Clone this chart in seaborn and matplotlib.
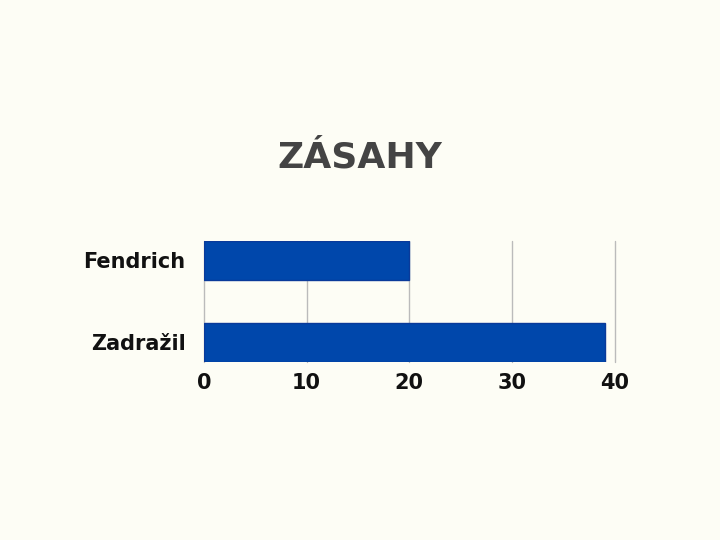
import matplotlib
matplotlib.use("Agg")
import matplotlib.pyplot as plt
import seaborn as sns
import pandas as pd

# chart data
players = ["Fendrich", "Zadražil"]
hits = [20, 39]
x_ticks = [0, 10, 20, 30, 40]

bg = "#fdfdf5"
sns.set_style("white")
plt.rcParams['font.family'] = ['DejaVu Sans']

df = pd.DataFrame({"player": players, "hits": hits})

fig = plt.figure(figsize=(7.2, 5.4), dpi=100, facecolor=bg)
ax = fig.add_axes([0.283, 0.330, 0.571, 0.224])
ax.set_facecolor(bg)

sns.barplot(data=df, x="hits", y="player", orient="h", color="#0047ab",
            width=0.48, edgecolor="#0a3a9a", linewidth=1, saturation=1, ax=ax)

ax.set_xlim(0, 40)
ax.set_ylim(1.24, -0.24)
ax.set_xticks(x_ticks)
ax.xaxis.grid(True, color="#bbbbbb", linewidth=1)
for gl in ax.get_xgridlines():
    gl.set_clip_on(False)
ax.set_axisbelow(True)
for s in ax.spines.values():
    s.set_visible(False)
ax.tick_params(axis="x", length=0, pad=8)
ax.tick_params(axis="y", length=0, pad=13)
ax.set_xlabel("")
ax.set_ylabel("")
for lbl in ax.get_xticklabels() + ax.get_yticklabels():
    lbl.set_fontsize(15)
    lbl.set_fontweight("heavy")
    lbl.set_color("#111111")

fig.text(0.5, 0.708, "ZÁSAHY", ha="center", va="center", fontsize=26,
         fontweight="heavy", color="#444444")

fig.savefig("out.png", dpi=100, facecolor=bg)
